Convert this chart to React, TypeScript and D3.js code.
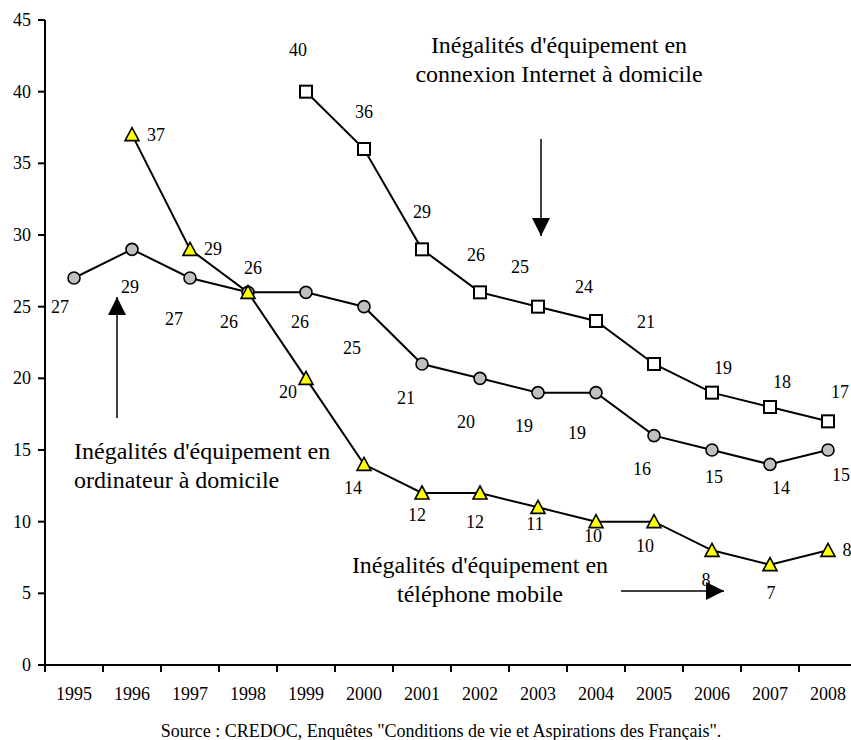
import React from "react";
import * as d3 from "d3";

const years = ["1995","1996","1997","1998","1999","2000","2001","2002","2003","2004","2005","2006","2007","2008"];
const yTicks = [0,5,10,15,20,25,30,35,40,45];

// Inégalités d'équipement en ordinateur à domicile (cercles)
const ordinateur = [27,29,27,26,26,25,21,20,19,19,16,15,14,15];
// Inégalités d'équipement en connexion Internet à domicile (carrés), depuis 1999
const internetYears = ["1999","2000","2001","2002","2003","2004","2005","2006","2007","2008"];
const internet = [40,36,29,26,25,24,21,19,18,17];
// Inégalités d'équipement en téléphone mobile (triangles), depuis 1996
const mobileYears = ["1996","1997","1998","1999","2000","2001","2002","2003","2004","2005","2006","2007","2008"];
const mobile = [37,29,26,20,14,12,12,11,10,10,8,7,8];

// label offsets (dx, dy) relative to each marker
const ordOff: [number, number][] = [[-14,29],[-2,38],[-16,41],[-19,30],[-6,30],[-12,41],[-16,34],[-14,44],[-14,33],[-19,40],[-12,33],[2,27],[11,24],[13,25]];
const intOff: [number, number][] = [[-8,-42],[0,-37],[0,-37],[-4,-37],[-18,-40],[-12,-34],[-8,-42],[11,-25],[12,-25],[12,-29]];
const mobOff: [number, number][] = [[24,0],[23,0],[5,-24],[-18,14],[-11,24],[-5,22],[-5,29],[-3,17],[-3,14],[-9,24],[-6,30],[1,28],[19,0]];

const FONT = "'Liberation Serif', 'Times New Roman', serif";

export default function App() {
  const W = 851, H = 740;
  const x = d3.scaleBand<string>().domain(years).range([45, 857]);
  const y = d3.scaleLinear().domain([0, 45]).range([665, 20]);
  const cx = (yr: string) => (x(yr) as number) + x.bandwidth() / 2;

  const line = d3.line<[string, number]>().x(d => cx(d[0])).y(d => y(d[1]));
  const ordPts: [string, number][] = years.map((yr, i) => [yr, ordinateur[i]]);
  const intPts: [string, number][] = internetYears.map((yr, i) => [yr, internet[i]]);
  const mobPts: [string, number][] = mobileYears.map((yr, i) => [yr, mobile[i]]);

  const labelStyle = { fontFamily: FONT, fontSize: 18, fill: "#000" } as const;
  const annStyle = { fontFamily: FONT, fontSize: 24, fill: "#000" } as const;

  const tri = (px: number, py: number) => {
    return `M${px},${py - 7}L${px + 7},${py + 6}L${px - 7},${py + 6}Z`;
  };

  return (
    <div style={{ position: "absolute", left: 0, top: 0 }}>
      <svg width={W} height={H} style={{ display: "block", background: "#fff" }}>
        <defs>
          <marker id="ah" viewBox="0 0 10 10" refX="10" refY="5" markerWidth="18" markerHeight="18" markerUnits="userSpaceOnUse" orient="auto">
            <path d="M0,0L10,5L0,10Z" fill="#000" />
          </marker>
        </defs>
        {/* axes */}
        <line x1={45} x2={45} y1={20} y2={665} stroke="#000" strokeWidth={2} />
        <line x1={45} x2={851} y1={665} y2={665} stroke="#000" strokeWidth={2} />
        {yTicks.map(t => (
          <g key={"yt" + t}>
            <line x1={38} x2={45} y1={y(t)} y2={y(t)} stroke="#000" strokeWidth={2} />
            <text x={31} y={y(t)} textAnchor="end" dominantBaseline="central" style={labelStyle}>{t}</text>
          </g>
        ))}
        {years.map(yr => (
          <g key={"xt" + yr}>
            <line x1={x(yr) as number} x2={x(yr) as number} y1={665} y2={672} stroke="#000" strokeWidth={2} />
            <text x={cx(yr)} y={700} textAnchor="middle" style={labelStyle}>{yr}</text>
          </g>
        ))}

        {/* lines */}
        <path d={line(ordPts) || ""} fill="none" stroke="#000" strokeWidth={2} />
        <path d={line(intPts) || ""} fill="none" stroke="#000" strokeWidth={2} />
        <path d={line(mobPts) || ""} fill="none" stroke="#000" strokeWidth={2} />

        {/* markers */}
        {ordPts.map((p, i) => (
          <circle key={"c" + i} cx={cx(p[0])} cy={y(p[1])} r={6} fill="#c0c0c0" stroke="#000" strokeWidth={1.6} />
        ))}
        {intPts.map((p, i) => (
          <rect key={"s" + i} x={cx(p[0]) - 6} y={y(p[1]) - 6} width={12} height={12} fill="#fff" stroke="#000" strokeWidth={2} />
        ))}
        {mobPts.map((p, i) => (
          <path key={"t" + i} d={tri(cx(p[0]), y(p[1]))} fill="#ffff00" stroke="#000" strokeWidth={1.6} />
        ))}

        {/* value labels */}
        {ordPts.map((p, i) => (
          <text key={"lc" + i} x={cx(p[0]) + ordOff[i][0]} y={y(p[1]) + ordOff[i][1]} textAnchor="middle" dominantBaseline="central" style={labelStyle}>{p[1]}</text>
        ))}
        {intPts.map((p, i) => (
          <text key={"ls" + i} x={cx(p[0]) + intOff[i][0]} y={y(p[1]) + intOff[i][1]} textAnchor="middle" dominantBaseline="central" style={labelStyle}>{p[1]}</text>
        ))}
        {mobPts.map((p, i) => (
          <text key={"lt" + i} x={cx(p[0]) + mobOff[i][0]} y={y(p[1]) + mobOff[i][1]} textAnchor="middle" dominantBaseline="central" style={labelStyle}>{p[1]}</text>
        ))}

        {/* annotations */}
        <text x={559} y={53} textAnchor="middle" style={annStyle}>Inégalités d'équipement en</text>
        <text x={559} y={82} textAnchor="middle" style={annStyle}>connexion Internet à domicile</text>
        <line x1={541} x2={541} y1={139} y2={236} stroke="#000" strokeWidth={1.5} markerEnd="url(#ah)" />

        <line x1={117} x2={117} y1={418} y2={297} stroke="#000" strokeWidth={1.5} markerEnd="url(#ah)" />
        <text x={74} y={459} style={annStyle}>Inégalités d'équipement en</text>
        <text x={74} y={488} style={annStyle}>ordinateur à domicile</text>

        <text x={480} y={573} textAnchor="middle" style={annStyle}>Inégalités d'équipement en</text>
        <text x={480} y={602} textAnchor="middle" style={annStyle}>téléphone mobile</text>
        <line x1={621} x2={724} y1={591} y2={591} stroke="#000" strokeWidth={1.5} markerEnd="url(#ah)" />

        <text x={441} y={737} textAnchor="middle" style={{ fontFamily: FONT, fontSize: 18, fill: "#000" }}>
          Source : CREDOC, Enquêtes "Conditions de vie et Aspirations des Français".
        </text>
      </svg>
    </div>
  );
}
